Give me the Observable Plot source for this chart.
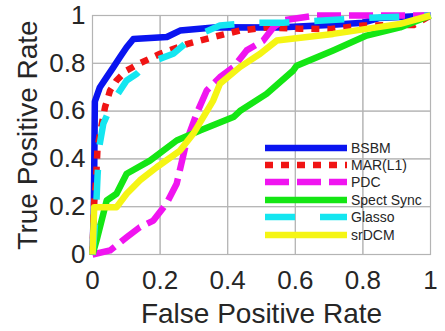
<!DOCTYPE html>
<html>
<head>
<meta charset="utf-8">
<script src="https://cdn.jsdelivr.net/npm/d3@7"></script>
<script src="https://cdn.jsdelivr.net/npm/@observablehq/plot@0.6"></script>
<style>
  html, body { margin: 0; padding: 0; background: #fff; }
  #wrap { position: relative; width: 445px; height: 331px; font-family: "Liberation Sans", Arial, sans-serif; }
  #legend { position: absolute; left: 265px; top: 139px; }
  .row { display: flex; align-items: center; height: 17.4px; }
  .row span { font-size: 14px; color: #262626; margin-left: 4px; white-space: nowrap; }
</style>
</head>
<body>
<div id="wrap"><div id="legend"></div></div>
<script>
const seriesNames = ["BSBM", "MAR(L1)", "PDC", "Spect Sync", "Glasso", "srDCM"];
const seriesColors = ["#0a14f0", "#f01414", "#f014f0", "#14e614", "#14e6f0", "#f5f514"];
const seriesDash = [null, "8,8", "24,8", null, "30,25", null];

const bsbmFPR = [0, 0.004, 0.007, 0.022, 0.042, 0.062, 0.081, 0.101, 0.121, 0.22, 0.259, 0.367, 0.55, 0.7, 0.8, 0.85, 1];
const bsbmTPR = [0, 0.2, 0.64, 0.70, 0.742, 0.784, 0.825, 0.867, 0.902, 0.91, 0.937, 0.951, 0.95, 0.96, 0.97, 0.99, 1];

const marFPR = [0, 0.005, 0.01, 0.015, 0.022, 0.037, 0.052, 0.071, 0.101, 0.14, 0.2, 0.279, 0.357, 0.436, 0.515, 0.614, 0.7, 0.8, 0.95, 1];
const marTPR = [0, 0.22, 0.3, 0.45, 0.505, 0.616, 0.686, 0.728, 0.77, 0.80, 0.84, 0.88, 0.91, 0.937, 0.95, 0.945, 0.943, 0.958, 0.96, 1];

const pdcFPR = [0, 0.052, 0.101, 0.14, 0.18, 0.219, 0.249, 0.279, 0.308, 0.338, 0.377, 0.417, 0.456, 0.505, 0.535, 0.564, 0.663, 1];
const pdcTPR = [0, 0.017, 0.072, 0.114, 0.142, 0.213, 0.296, 0.477, 0.589, 0.686, 0.742, 0.784, 0.854, 0.895, 0.95, 0.98, 1, 1];

const syncFPR = [0, 0.012, 0.042, 0.071, 0.101, 0.17, 0.249, 0.318, 0.417, 0.436, 0.515, 0.594, 0.604, 0.712, 0.811, 0.91, 1];
const syncTPR = [0, 0.059, 0.226, 0.254, 0.338, 0.393, 0.477, 0.519, 0.575, 0.6, 0.672, 0.77, 0.79, 0.854, 0.916, 0.95, 1];

const glassoFPR = [0, 0.01, 0.015, 0.02, 0.032, 0.062, 0.101, 0.131, 0.16, 0.239, 0.298, 0.377, 0.466, 0.564, 0.811, 1];
const glassoTPR = [0, 0.17, 0.33, 0.45, 0.547, 0.644, 0.728, 0.756, 0.798, 0.84, 0.91, 0.958, 0.97, 0.97, 0.99, 1];

const srdcmFPR = [0, 0.005, 0.071, 0.101, 0.14, 0.19, 0.259, 0.298, 0.357, 0.377, 0.436, 0.496, 0.545, 0.712, 0.91, 1];
const srdcmTPR = [0, 0.198, 0.198, 0.254, 0.31, 0.365, 0.435, 0.505, 0.644, 0.714, 0.784, 0.84, 0.895, 0.923, 0.965, 1];

const xTicks = [0, 0.2, 0.4, 0.6, 0.8, 1];
const yTicks = [0, 0.2, 0.4, 0.6, 0.8, 1];
const tickLabel = d => d === 0 ? "0" : d === 1 ? "1" : String(d);

const fprs = [bsbmFPR, marFPR, pdcFPR, syncFPR, glassoFPR, srdcmFPR];
const tprs = [bsbmTPR, marTPR, pdcTPR, syncTPR, glassoTPR, srdcmTPR];

const lineMarks = seriesNames.map((name, i) => {
  const data = fprs[i].map((x, j) => ({x, y: tprs[i][j]}));
  return Plot.line(data, {
    x: "x", y: "y", stroke: seriesColors[i], strokeWidth: 6.5,
    strokeDasharray: seriesDash[i] || undefined,
    strokeLinejoin: "round", strokeLinecap: "butt"
  });
});

const frameColor = "#b4b4b4";
const chart = Plot.plot({
  width: 445, height: 331,
  marginLeft: 92, marginRight: 15, marginTop: 15, marginBottom: 77,
  style: { fontFamily: "Liberation Sans, Arial, sans-serif", color: "#262626", background: "#fff" },
  x: { domain: [0, 1], label: null },
  y: { domain: [0, 1], label: null },
  marks: [
    Plot.frame({ stroke: frameColor, strokeWidth: 1.2 }),
    Plot.tickX(xTicks, { x: d => d, y1: 0, y2: 0.018, stroke: frameColor }),
    Plot.tickX(xTicks, { x: d => d, y1: 1, y2: 0.982, stroke: frameColor }),
    Plot.tickY(yTicks, { y: d => d, x1: 0, x2: 0.013, stroke: frameColor }),
    Plot.tickY(yTicks, { y: d => d, x1: 1, x2: 0.987, stroke: frameColor }),
    Plot.axisX({ ticks: xTicks, tickFormat: tickLabel, tickSize: 0, tickPadding: 16, fontSize: 26, label: null, stroke: "none" }),
    Plot.axisY({ ticks: yTicks, tickFormat: tickLabel, tickSize: 0, tickPadding: 7, fontSize: 26, label: null }),
    ...lineMarks,
    Plot.text(["False Positive Rate"], { frameAnchor: "bottom", dy: 68, fontSize: 28, fill: "#262626" }),
    Plot.text(["True Positive Rate"], { frameAnchor: "left", dx: -64, rotate: -90, textAnchor: "middle", fontSize: 28, fill: "#262626" })
  ]
});
document.getElementById("wrap").prepend(chart);

const legend = document.getElementById("legend");
seriesNames.forEach((name, i) => {
  const row = document.createElement("div");
  row.className = "row";
  const dash = seriesDash[i] ? `stroke-dasharray="${seriesDash[i]}"` : "";
  row.innerHTML = `<svg width="82" height="8"><line x1="0" y1="4" x2="82" y2="4" stroke="${seriesColors[i]}" stroke-width="6.5" ${dash}/></svg><span>${name}</span>`;
  legend.appendChild(row);
});
</script>
</body>
</html>
